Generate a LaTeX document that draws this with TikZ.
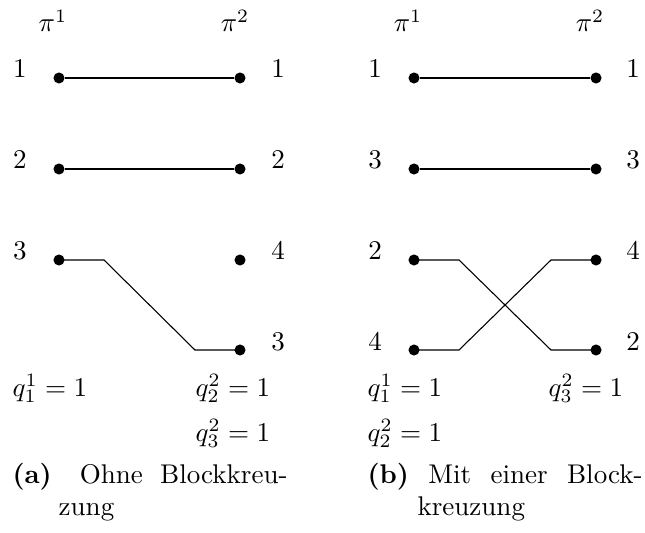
\documentclass[tikz,border=0pt]{standalone}
\usepackage{xcolor}
\usepackage{tikz}
\usetikzlibrary{calc}
\tikzset{
  blockdot/.style={circle, fill, inner sep=0pt, minimum size=4.1pt},
  rowlabel/.style={anchor=base, inner sep=0pt},
  permlabel/.style={anchor=base, inner sep=0pt},
  qlabel/.style={anchor=base west, inner sep=0pt},
  subcap/.style={anchor=base west, inner sep=0pt, text width=3.575cm, align=left},
  blockline/.style={line width=0.4pt}
}

\begin{document}
\begin{tikzpicture}
\useasboundingbox (0,0) rectangle (8.385,-6.916);
% (a) ohne Blockkreuzung
\node[permlabel] (apione) at (0.689,-0.416) {$\pi^1$};
\node[permlabel] (apitwo) at (3.055,-0.416) {$\pi^2$};
\node[blockdot] (aleft1) at (0.767,-1.014) {};
\node[blockdot] (aleft2) at (0.767,-2.197) {};
\node[blockdot] (aleft3) at (0.767,-3.38) {};
\node[blockdot] (aright1) at (3.12,-1.014) {};
\node[blockdot] (aright2) at (3.12,-2.197) {};
\node[blockdot] (aright3) at (3.12,-3.38) {};
\node[blockdot] (aright4) at (3.12,-4.55) {};
\node[rowlabel] at (0.26,-1.014) {1};
\node[rowlabel] at (0.26,-2.197) {2};
\node[rowlabel] at (0.26,-3.38) {3};
\node[rowlabel] at (3.614,-1.014) {1};
\node[rowlabel] at (3.614,-2.197) {2};
\node[rowlabel] at (3.614,-3.38) {4};
\node[rowlabel] at (3.614,-4.55) {3};
\draw[blockline] (aleft1) -- (aright1);
\draw[blockline] (aleft2) -- (aright2);
\draw[blockline] (aleft3.center) -- ++(0.585,0) -- ($(aright4.center)+(-0.585,0)$) -- (aright4.center);
\node[qlabel] (aqone) at (0.156,-5.148) {$q_1^1 = 1$};
\node[qlabel] (aqtwo) at (2.535,-5.148) {$q_2^2 = 1$};
\node[qlabel] (aqthree) at (2.535,-5.733) {$q_3^2 = 1$};
\node[subcap] (acap) at (0.156,-6.279)
  {\hbox to 3.575cm{\textbf{(a)}\hspace{4pt}\hfill Ohne\hfill Blockkreu-}\\\hspace*{0.6cm}zung};
% (b) mit einer Blockkreuzung
\node[permlabel] (bpione) at (5.304,-0.416) {$\pi^1$};
\node[permlabel] (bpitwo) at (7.67,-0.416) {$\pi^2$};
\node[blockdot] (bleft1) at (5.382,-1.014) {};
\node[blockdot] (bleft2) at (5.382,-2.197) {};
\node[blockdot] (bleft3) at (5.382,-3.38) {};
\node[blockdot] (bleft4) at (5.382,-4.55) {};
\node[blockdot] (bright1) at (7.748,-1.014) {};
\node[blockdot] (bright2) at (7.748,-2.197) {};
\node[blockdot] (bright3) at (7.748,-3.38) {};
\node[blockdot] (bright4) at (7.748,-4.55) {};
\node[rowlabel] at (4.875,-1.014) {1};
\node[rowlabel] at (4.875,-2.197) {3};
\node[rowlabel] at (4.875,-3.38) {2};
\node[rowlabel] at (4.875,-4.55) {4};
\node[rowlabel] at (8.229,-1.014) {1};
\node[rowlabel] at (8.229,-2.197) {3};
\node[rowlabel] at (8.229,-3.38) {4};
\node[rowlabel] at (8.229,-4.55) {2};
\draw[blockline] (bleft1) -- (bright1);
\draw[blockline] (bleft2) -- (bright2);
\draw[blockline] (bleft3.center) -- ++(0.585,0) -- ($(bright4.center)+(-0.585,0)$) -- (bright4.center);
\draw[blockline] (bleft4.center) -- ++(0.585,0) -- ($(bright3.center)+(-0.585,0)$) -- (bright3.center);
\node[qlabel] (bqone) at (4.771,-5.148) {$q_1^1 = 1$};
\node[qlabel] (bqtwo) at (4.771,-5.733) {$q_2^2 = 1$};
\node[qlabel] (bqthree) at (7.124,-5.148) {$q_3^2 = 1$};
\node[subcap] (bcap) at (4.771,-6.279)
  {\hbox to 3.575cm{\textbf{(b)}\hfill Mit\hfill einer\hfill Block-}\\\hspace*{0.65cm}kreuzung};
\end{tikzpicture}
\end{document}
